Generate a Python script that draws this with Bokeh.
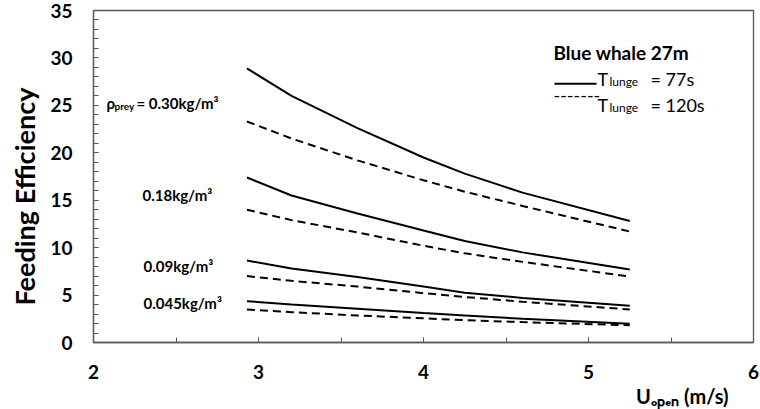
from bokeh.plotting import figure
from bokeh.models import Range1d, FixedTicker, Label, Title, BoxAnnotation
from bokeh.embed import file_html
from bokeh.resources import INLINE

# ---- data ----
u_open = [2.93, 3.2, 3.6, 4.0, 4.25, 4.6, 5.25]
fe_030_77 = [28.9, 26.0, 22.6, 19.5, 17.8, 15.8, 12.8]
fe_030_120 = [23.3, 21.5, 19.2, 17.1, 15.9, 14.4, 11.7]
fe_018_77 = [17.4, 15.5, 13.6, 11.8, 10.7, 9.5, 7.7]
fe_018_120 = [14.0, 12.9, 11.6, 10.2, 9.4, 8.5, 6.96]
fe_009_77 = [8.64, 7.8, 6.9, 5.9, 5.25, 4.7, 3.87]
fe_009_120 = [7.0, 6.5, 5.9, 5.2, 4.8, 4.3, 3.48]
fe_0045_77 = [4.36, 4.0, 3.55, 3.1, 2.85, 2.5, 1.97]
fe_0045_120 = [3.48, 3.2, 2.85, 2.55, 2.35, 2.15, 1.82]

x_ticks = [2, 3, 4, 5, 6]
x_minor = [2, 2.5, 3, 3.5, 4, 4.5, 5, 5.5, 6]
y_ticks = [0, 5, 10, 15, 20, 25, 30, 35]
y_minor = list(range(0, 36))

FONT = "Lato"
AX = "#595959"

p = figure(width=760, height=409, output_backend="svg", toolbar_location=None,
           x_range=Range1d(2, 6), y_range=Range1d(0, 35),
           min_border_left=93, min_border_right=7, min_border_top=10, min_border_bottom=67)
p.background_fill_color = "white"
p.border_fill_color = "white"
p.outline_line_color = AX
p.outline_line_width = 1.3
p.grid.visible = False

for ax in (p.xaxis[0], p.yaxis[0]):
    ax.axis_line_color = AX
    ax.axis_line_width = 1.3
    ax.major_tick_line_color = AX
    ax.minor_tick_line_color = AX
    ax.major_tick_in = 5
    ax.major_tick_out = 0
    ax.minor_tick_in = 5
    ax.minor_tick_out = 0
    ax.major_label_text_font = FONT
    ax.major_label_text_font_style = "bold"
    ax.major_label_text_font_size = "19px"
    ax.major_label_text_color = "black"

p.xaxis.ticker = FixedTicker(ticks=x_ticks, minor_ticks=x_minor)
p.yaxis.ticker = FixedTicker(ticks=y_ticks, minor_ticks=y_minor)
p.xaxis.major_label_standoff = 22
p.yaxis.major_label_standoff = 21

series = [
    (fe_030_77, "solid"), (fe_030_120, "8 5"),
    (fe_018_77, "solid"), (fe_018_120, "8 5"),
    (fe_009_77, "solid"), (fe_009_120, "8 5"),
    (fe_0045_77, "solid"), (fe_0045_120, "8 5"),
]
for vals, dash in series:
    p.line(u_open, vals, line_color="black", line_width=2, line_dash=dash)

# annotation placement helpers (reference pixel -> data coords)
def dx(px):
    return 2 + (px - 93) / 165.0

def dy(py):
    return (342 - py) / 9.486

def lab(text, xp, yp, size, style="bold"):
    p.add_layout(Label(x=dx(xp), y=dy(yp), text=text, text_font=FONT,
                       text_font_size=f"{size}px", text_font_style=style,
                       text_color="black", text_align="left",
                       text_baseline="alphabetic"))

# density labels
lab("ρ", 106, 102, 15)
lab("prey", 114, 105, 10)
lab("= 0.30kg/m³", 136, 102, 15)
lab("0.18kg/m³", 142, 194, 15)
lab("0.09kg/m³", 143, 265, 15)
lab("0.045kg/m³", 143, 302, 15)

# legend block
lab("Blue whale 27m", 553, 52, 19)
p.add_layout(BoxAnnotation(left=dx(554), right=dx(596), bottom=dy(84.2), top=dy(82.2),
                           fill_color="black", fill_alpha=1.0, line_alpha=0))
lab("T", 597, 78, 18, "normal")
lab("lunge", 609, 81, 12, "normal")
lab("= 77s", 650, 78, 18, "normal")
lab("-------", 553, 95, 18, "normal")
lab("T", 597, 104, 18, "normal")
lab("lunge", 609, 107, 12, "normal")
lab("= 120s", 650, 104, 18, "normal")

# axis titles
p.add_layout(Title(text="Uₒₚₑₙ (m/s)", align="right", offset=25, standoff=0,
                   text_font=FONT, text_font_size="20px",
                   text_font_style="bold", text_color="black"), "below")
p.add_layout(Title(text="Feeding Efficiency", align="left", offset=37,
                   standoff=10, vertical_align="top", text_font=FONT,
                   text_font_size="27px", text_font_style="bold",
                   text_color="black"), "left")

open("out.html", "w").write(file_html(p, INLINE))
